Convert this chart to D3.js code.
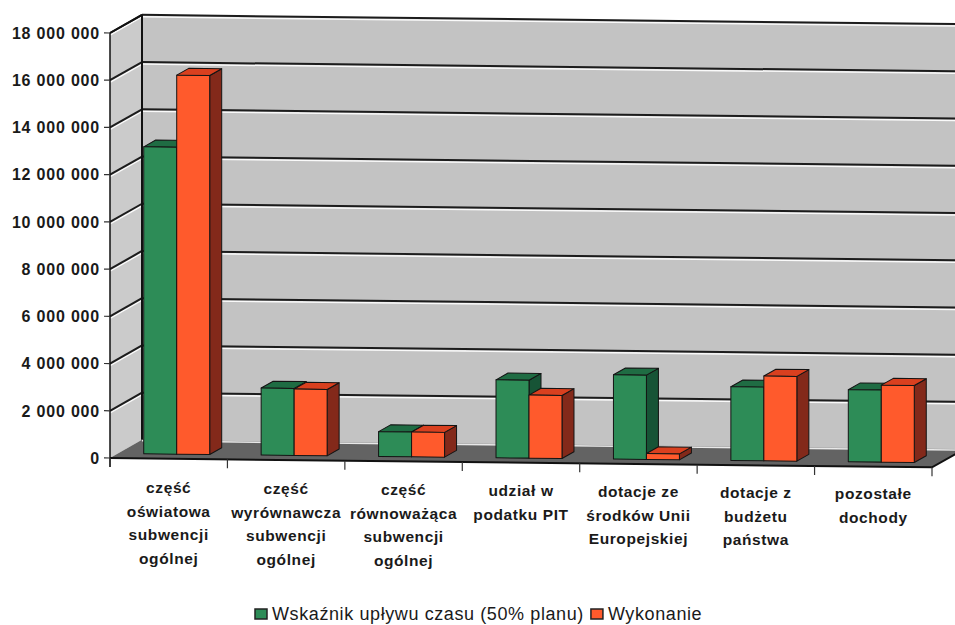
<!DOCTYPE html>
<html>
<head>
<meta charset="utf-8">
<script src="https://cdn.jsdelivr.net/npm/d3@7"></script>
<style>
  body { margin: 0; background: #fff; }
  svg { display: block; }
</style>
</head>
<body>
<div id="chart"></div>
<script>
// category labels, one array of lines per category
const categories = [
  ["część", "oświatowa", "subwencji", "ogólnej"],
  ["część", "wyrównawcza", "subwencji", "ogólnej"],
  ["część", "równoważąca", "subwencji", "ogólnej"],
  ["udział w", "podatku PIT"],
  ["dotacje ze", "środków Unii", "Europejskiej"],
  ["dotacje z", "budżetu", "państwa"],
  ["pozostałe", "dochody"]
];
const seriesNames = ["Wskaźnik upływu czasu (50% planu)", "Wykonanie"];
const planPace  = [13000000, 2840000, 1050000, 3300000, 3570000, 3120000, 3050000];
const execution = [16050000, 2810000, 1050000, 2670000, 250000, 3590000, 3260000];
const yTicks = [0, 2000000, 4000000, 6000000, 8000000, 10000000, 12000000, 14000000, 16000000, 18000000];

const width = 955;
const height = 625;
const left = 110, right = 932;
const zeroY = 458, topY = 33;
const depthX = 32, depthY = -18.5;   // floor / wall depth
const barFront = 0.25, barBack = 0.625; // bar position in depth
const skewDeg = 0.65;                 // the scan is a little tilted
const skewT = Math.tan(skewDeg * Math.PI / 180);

const colors = [
  { front: "#2d8c57", top: "#1f6c43", side: "#175436" },
  { front: "#ff5a2c", top: "#d9401f", side: "#83291a" }
];

const svg = d3.select("#chart").append("svg")
  .attr("width", width)
  .attr("height", height)
  .attr("viewBox", [0, 0, width, height]);

const x = d3.scaleBand()
  .domain(d3.range(categories.length))
  .range([left, right])
  .padding(0);

const x1 = d3.scaleBand()
  .domain(d3.range(seriesNames.length))
  .range([0, x.bandwidth()])
  .paddingInner(0)
  .paddingOuter(0.78);

const y = d3.scaleLinear()
  .domain([0, 18000000])
  .range([zeroY, topY]);

const fmt = d3.formatLocale({ decimal: ",", thousands: " ", grouping: [3], currency: ["", ""] }).format(",d");

// point in front plane moved back by depth fraction
const proj = (px, py, f) => [px + f * depthX, py + f * depthY];
const poly = pts => pts.map(p => p.join(",")).join(" ");

const plot = svg.append("g")
  .attr("transform", `translate(${left},0) skewY(${skewDeg}) translate(${-left},0)`);

// back wall
const yTopBack = y(18000000) + depthY, yZeroBack = y(0) + depthY;
plot.append("polygon")
  .attr("points", poly([[left + depthX, yTopBack], [1010, yTopBack], [1010, yZeroBack], [left + depthX, yZeroBack]]))
  .attr("fill", "#c3c3c3");

// left wall
plot.append("polygon")
  .attr("points", poly([[left, y(18000000)], proj(left, y(18000000), 1), proj(left, y(0), 1), [left, y(0)]]))
  .attr("fill", "#cbcbcb");

// gridlines on both walls
const grid = plot.append("g");
yTicks.filter(d => d > 0).forEach(v => {
  const yb = y(v) + depthY;
  grid.append("line")
    .attr("x1", left + depthX).attr("x2", 1010).attr("y1", yb + 2).attr("y2", yb + 2)
    .attr("stroke", "#fafafa").attr("stroke-width", 1.5);
  grid.append("line")
    .attr("x1", left).attr("y1", y(v) + 2).attr("x2", left + depthX).attr("y2", yb + 2)
    .attr("stroke", "#fafafa").attr("stroke-width", 1.5);
  grid.append("line")
    .attr("x1", left + depthX).attr("x2", 1010).attr("y1", yb).attr("y2", yb)
    .attr("stroke", "#1c1c1c").attr("stroke-width", 2);
  grid.append("line")
    .attr("x1", left).attr("y1", y(v)).attr("x2", left + depthX).attr("y2", yb)
    .attr("stroke", "#1c1c1c").attr("stroke-width", 2);
});

// back wall left edge
plot.append("line")
  .attr("x1", left + depthX).attr("x2", left + depthX)
  .attr("y1", yTopBack).attr("y2", yZeroBack)
  .attr("stroke", "#111").attr("stroke-width", 2);

// floor
plot.append("polygon")
  .attr("points", poly([[left, y(0)], [right, y(0)], proj(right, y(0), 1), proj(left, y(0), 1)]))
  .attr("fill", "#636363");
plot.append("line")
  .attr("x1", left + depthX).attr("x2", 1010).attr("y1", yZeroBack + 1).attr("y2", yZeroBack + 1)
  .attr("stroke", "#e8e8e8").attr("stroke-width", 1.5);
plot.append("polyline")
  .attr("points", poly([[left, y(0)], [right, y(0)], proj(right, y(0), 1)]))
  .attr("fill", "none").attr("stroke", "#111").attr("stroke-width", 2);

// bars
const values = [planPace, execution];
categories.forEach((c, i) => {
  values.forEach((vals, s) => {
    const x0 = x(i) + x1(s), x2 = x0 + x1.bandwidth();
    const yt = y(vals[i]), yb = y(0);
    const col = colors[s];
    const g = plot.append("g").attr("stroke", "#141414").attr("stroke-width", 1).attr("stroke-linejoin", "round");
    g.append("polygon")
      .attr("points", poly([proj(x2, yt, barFront), proj(x2, yt, barBack), proj(x2, yb, barBack), proj(x2, yb, barFront)]))
      .attr("fill", col.side);
    g.append("polygon")
      .attr("points", poly([proj(x0, yt, barFront), proj(x2, yt, barFront), proj(x2, yt, barBack), proj(x0, yt, barBack)]))
      .attr("fill", col.top);
    g.append("polygon")
      .attr("points", poly([proj(x0, yt, barFront), proj(x2, yt, barFront), proj(x2, yb, barFront), proj(x0, yb, barFront)]))
      .attr("fill", col.front);
  });
});

// left wall top edge and front axis
plot.append("line")
  .attr("x1", left).attr("y1", y(18000000))
  .attr("x2", left + depthX).attr("y2", yTopBack)
  .attr("stroke", "#111").attr("stroke-width", 2);
plot.append("line")
  .attr("x1", left).attr("x2", left).attr("y1", y(18000000)).attr("y2", y(0) + 9)
  .attr("stroke", "#111").attr("stroke-width", 1.5);
plot.selectAll(".ytick").data(yTicks).join("line")
  .attr("x1", left - 6).attr("x2", left)
  .attr("y1", d => y(d)).attr("y2", d => y(d))
  .attr("stroke", "#333").attr("stroke-width", 1.2);
plot.selectAll(".xtick").data(d3.range(categories.length + 1)).join("line")
  .attr("x1", d => left + d * x.step()).attr("x2", d => left + d * x.step())
  .attr("y1", y(0)).attr("y2", y(0) + 9)
  .attr("stroke", "#333").attr("stroke-width", 1.2);

// y labels
svg.append("g")
  .attr("font-family", "Liberation Sans, Arial, sans-serif")
  .attr("font-size", 16)
  .attr("font-weight", "bold")
  .attr("letter-spacing", 0.8)
  .attr("fill", "#1a1a1a")
  .attr("text-anchor", "end")
  .selectAll("text").data(yTicks).join("text")
    .attr("x", left - 10)
    .attr("y", d => y(d))
    .attr("dy", "0.36em")
    .text(d => fmt(d));

// category labels
const catG = svg.append("g")
  .attr("font-family", "Liberation Sans, Arial, sans-serif")
  .attr("font-size", 15.5)
  .attr("font-weight", "bold")
  .attr("letter-spacing", 0.6)
  .attr("fill", "#1a1a1a")
  .attr("text-anchor", "middle");
categories.forEach((lines, i) => {
  const cx = x(i) + x.bandwidth() / 2;
  const t = catG.append("text")
    .attr("x", cx)
    .attr("y", 493 + (cx - left) * skewT * 0.7);
  lines.forEach((ln, k) => {
    t.append("tspan").attr("x", cx).attr("dy", k === 0 ? 0 : 23.5).text(ln);
  });
});

// legend
const legend = svg.append("g")
  .attr("font-family", "Liberation Sans, Arial, sans-serif")
  .attr("font-size", 18)
  .attr("letter-spacing", 0.6)
  .attr("fill", "#1a1a1a");
let lx = 255;
seriesNames.forEach((name, s) => {
  legend.append("rect")
    .attr("x", lx).attr("y", 609).attr("width", 12).attr("height", 10)
    .attr("fill", colors[s].front).attr("stroke", "#222").attr("stroke-width", 1.5);
  const t = legend.append("text").attr("x", lx + 17).attr("y", 620).text(name);
  lx = lx + 17 + t.node().getComputedTextLength() + 7;
});
</script>
</body>
</html>
